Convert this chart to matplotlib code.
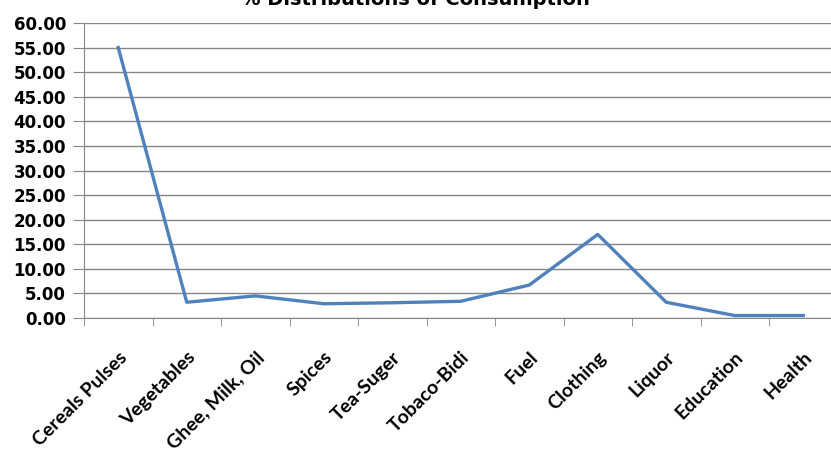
import matplotlib.pyplot as plt
from matplotlib.ticker import FixedLocator, FormatStrFormatter

categories = ["Cereals Pulses", "Vegetables", "Ghee, Milk, Oil", "Spices", "Tea-Suger",
              "Tobaco-Bidi", "Fuel", "Clothing", "Liquor", "Education", "Health"]
percent = [55.0, 3.2, 4.5, 2.9, 3.1, 3.4, 6.7, 17.0, 3.2, 0.5, 0.5]

fig = plt.figure(figsize=(8.31, 4.5), dpi=100)
# plot area runs a bit past the right border, as in the cropped original
ax = fig.add_axes([84 / 831, 132 / 450, 753.5 / 831, 295 / 450])

x = list(range(len(categories)))
ax.plot(x, percent, color="#4F81BD", linewidth=2.4, solid_joinstyle="round", zorder=3)

ax.set_xlim(-0.5, len(categories) - 0.5)
ax.set_ylim(0, 60)
ax.set_yticks([i * 5 for i in range(13)])
ax.yaxis.set_major_formatter(FormatStrFormatter("%.2f"))
ax.grid(axis="y", color="#868686", linewidth=1)
ax.set_axisbelow(True)

ax.set_xticks(x)
ax.set_xticklabels(categories, rotation=45, ha="right", va="top",
                   rotation_mode="anchor", fontsize=14, fontweight="bold",
                   family="Lato")
ax.xaxis.set_minor_locator(FixedLocator([i - 0.5 for i in range(len(categories) + 1)]))
ax.tick_params(axis="x", which="major", length=0, pad=22)
ax.tick_params(axis="x", which="minor", length=6, color="#868686", direction="out")
ax.tick_params(axis="y", length=8, color="#868686", pad=5)
for lab in ax.get_yticklabels():
    lab.set_fontsize(12)
    lab.set_fontweight("bold")
    lab.set_family("DejaVu Sans")

for s in ["top", "right"]:
    ax.spines[s].set_visible(False)
for s in ["left", "bottom"]:
    ax.spines[s].set_color("#868686")

# title is cut by the top border in the original picture
fig.text(0.5, 1 - 5 / 450, "% Distributions of Consumption", ha="center", va="baseline",
         fontsize=14, fontweight="bold", family="DejaVu Sans")

fig.savefig("out.png", dpi=100)
